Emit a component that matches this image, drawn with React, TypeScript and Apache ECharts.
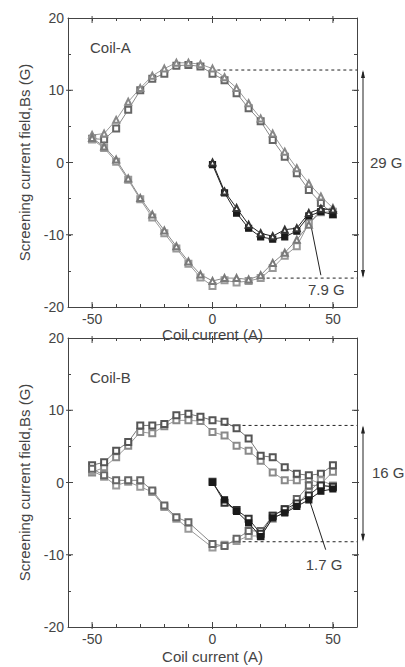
import React, { useEffect, useRef } from "react";
import * as echarts from "echarts";

// ---- data ----
const X_VIRGIN = [0, 5, 10, 15, 20, 25, 30, 35, 40, 45, 50];
const X_DESC = [50, 45, 40, 35, 30, 25, 20, 15, 10, 5, 0, -5, -10, -15, -20, -25, -30, -35, -40, -45, -50];
const X_ASC = [-50, -45, -40, -35, -30, -25, -20, -15, -10, -5, 0, 5, 10, 15, 20, 25, 30, 35, 40, 45, 50];
const X_ASC_B = [-50, -45, -40, -35, -30, -25, -20, -15, -10, 0, 5, 10, 15, 20, 25, 30, 35, 40, 45, 50];

// Coil-A
const A_VIRGIN_TRI = [0, -4.0, -6.3, -8.6, -9.8, -10.2, -9.3, -9.1, -7.0, -6.4, -6.5];
const A_VIRGIN_SQ = [-0.3, -4.2, -7.0, -9.1, -10.3, -10.6, -10.3, -9.5, -7.4, -6.8, -7.2];
const A_DESC_TRI = [-6.3, -4.7, -2.9, -0.8, 1.5, 4.0, 6.1, 8.2, 10.3, 11.8, 13.0, 13.6, 13.8, 13.8, 13.0, 12.0, 10.3, 8.4, 5.9, 4.0, 3.8];
const A_DESC_SQ = [-7.2, -5.6, -3.8, -1.5, 0.8, 3.1, 5.7, 7.5, 9.6, 11.4, 12.3, 13.3, 13.5, 13.4, 12.3, 11.6, 10.0, 7.3, 4.7, 3.2, 3.3];
const A_ASC_TRI = [3.4, 2.2, 0.4, -2.2, -4.9, -7.2, -9.4, -11.6, -13.7, -15.5, -16.4, -16.0, -16.0, -16.2, -15.6, -13.9, -12.5, -10.7, -8.6, -6.5, -6.5];
const A_ASC_SQ = [3.2, 2.0, 0.1, -2.4, -5.1, -7.6, -9.8, -11.9, -14.0, -15.9, -17.1, -16.3, -16.6, -16.4, -16.0, -14.6, -12.9, -11.6, -8.4, -6.9, -6.8];

// Coil-B
const B_VIRGIN_1 = [0, -2.4, -4.0, -5.6, -7.5, -4.9, -4.2, -3.3, -2.4, -1.2, -0.9];
const B_VIRGIN_2 = [0.1, -2.8, -3.8, -5.0, -7.1, -4.6, -3.7, -2.9, -1.8, -0.4, -0.6];
const B_DESC_1 = [2.4, 1.2, 1.0, 1.2, 2.1, 3.5, 3.7, 6.1, 7.5, 8.4, 8.6, 9.1, 9.5, 9.3, 8.1, 7.9, 7.9, 5.6, 4.4, 2.8, 2.4];
const B_DESC_2 = [1.5, -0.2, 0.5, 0.3, 0.3, 1.4, 3.0, 4.4, 5.1, 6.5, 7.0, 8.5, 8.6, 8.6, 7.8, 6.8, 7.0, 5.1, 3.5, 2.1, 1.4];
const B_ASC_1 = [1.9, 1.0, 0.3, 0.3, 0.3, -1.1, -3.2, -4.8, -5.5, -8.5, -8.8, -7.8, -6.7, -6.7, -4.6, -3.7, -2.3, -0.4, -0.4, -0.6];
const B_ASC_2 = [1.6, 0.8, -0.4, 0.1, -0.6, -1.3, -3.4, -5.0, -6.4, -9.0, -8.6, -8.1, -7.4, -7.4, -5.0, -4.1, -3.0, -1.3, 0.3, -0.4];

// annotation levels
const A_TOP = 12.8, A_BOT = -16.0, A_TOP_FROM = 2, A_BOT_FROM = 20;
const B_TOP = 7.9, B_BOT = -8.2, B_TOP_FROM = 5, B_BOT_FROM = 10;
const A_LEADER = [[41, -8.9], [45, -15.6]];
const B_LEADER = [[40.2, -2.4], [47, -9.3]];
const X_TICKS_LABELED = [-50, 0, 50];
const Y_TICKS_LABELED = [-20, -10, 0, 10, 20];
const Y_MAJOR_INNER = [-10, 0, 10];

const FONT = "Liberation Sans, Arial, sans-serif";
const TXT = "#444";
const AXC = "#444";

function zip(xs: number[], ys: number[]) {
  return xs.map((x, i) => [x, ys[i]]);
}

export default function App() {
  const ref = useRef<HTMLDivElement>(null);
  useEffect(() => {
    if (!ref.current) return;
    const chart = echarts.init(ref.current, undefined, { renderer: "svg" });

    const axLine = { show: true, onZero: false, lineStyle: { color: AXC, width: 1 } };
    const minorTick = { show: true, inside: true, length: 3, lineStyle: { color: AXC } };
    const xBase = (grid: number, gap: number) => [
      {
        gridIndex: grid, type: "value", min: -60, max: 60, interval: 10, position: "bottom",
        axisLine: axLine,
        axisTick: minorTick,
        axisLabel: {
          color: TXT, fontSize: 14, fontFamily: FONT, margin: 5,
          formatter: (v: number) => (X_TICKS_LABELED.includes(v) ? String(v) : ""),
        },
        splitLine: { show: false },
        name: "Coil current (A)", nameLocation: "middle", nameGap: gap,
        nameTextStyle: { color: TXT, fontSize: 15, fontFamily: FONT },
      },
      {
        gridIndex: grid, type: "value", min: -60, max: 60, interval: 10, position: "top",
        axisLine: axLine,
        axisTick: minorTick,
        axisLabel: { show: false }, splitLine: { show: false },
      },
    ];
    const yBase = (grid: number) => [
      {
        gridIndex: grid, type: "value", min: -20, max: 20, interval: 5, position: "left",
        axisLine: axLine,
        axisTick: minorTick,
        axisLabel: {
          color: TXT, fontSize: 14, fontFamily: FONT, margin: 4,
          formatter: (v: number) => (Y_TICKS_LABELED.includes(v) ? String(v) : ""),
        },
        splitLine: { show: false },
        name: "Screening current field,Bs (G)", nameLocation: "middle", nameGap: 36, nameRotate: 90,
        nameTextStyle: { color: TXT, fontSize: 15, fontFamily: FONT },
      },
      {
        gridIndex: grid, type: "value", min: -20, max: 20, interval: 5, position: "right",
        axisLine: axLine,
        axisTick: minorTick,
        axisLabel: { show: false }, splitLine: { show: false },
      },
    ];

    const ser = (grid: number, xs: number[], ys: number[], symbol: string, color: string, line: string, z = 2) => ({
      type: "line", xAxisIndex: grid * 2, yAxisIndex: grid * 2, data: zip(xs, ys),
      symbol, symbolSize: 6, showSymbol: true,
      itemStyle: { color, borderColor: color, borderWidth: 1.2 },
      lineStyle: { color: line, width: 1 }, z,
    });
    const dash = (grid: number, from: number, level: number) => ({
      type: "line", xAxisIndex: grid * 2, yAxisIndex: grid * 2,
      data: [[from, level], [60, level]], symbol: "none",
      lineStyle: { color: "#222", width: 1, type: [3, 3] }, z: 1, silent: true,
    });

    const series = [
      ser(0, X_DESC, A_DESC_SQ, "emptyRect", "#666", "#888"),
      ser(0, X_DESC, A_DESC_TRI, "emptyTriangle", "#888", "#999"),
      ser(0, X_ASC, A_ASC_SQ, "emptyRect", "#999", "#999"),
      ser(0, X_ASC, A_ASC_TRI, "emptyTriangle", "#7a7a7a", "#888"),
      ser(0, X_VIRGIN, A_VIRGIN_SQ, "rect", "#1a1a1a", "#222", 3),
      ser(0, X_VIRGIN, A_VIRGIN_TRI, "emptyTriangle", "#333", "#222", 3),
      dash(0, A_TOP_FROM, A_TOP),
      dash(0, A_BOT_FROM, A_BOT),
      ser(1, X_DESC, B_DESC_2, "emptyRect", "#8a8a8a", "#999"),
      ser(1, X_DESC, B_DESC_1, "emptyRect", "#555", "#777"),
      ser(1, X_ASC_B, B_ASC_2, "emptyRect", "#9a9a9a", "#999"),
      ser(1, X_ASC_B, B_ASC_1, "emptyRect", "#666", "#888"),
      ser(1, X_VIRGIN, B_VIRGIN_2, "emptyRect", "#333", "#333", 3),
      ser(1, X_VIRGIN, B_VIRGIN_1, "rect", "#1a1a1a", "#222", 3),
      dash(1, B_TOP_FROM, B_TOP),
      dash(1, B_BOT_FROM, B_BOT),
    ];

    chart.setOption({
      animation: false,
      backgroundColor: "#fff",
      grid: [
        { left: 68, top: 18, width: 289, height: 289 },
        { left: 68, top: 338, width: 289, height: 289 },
      ],
      xAxis: [...xBase(0, 17), ...xBase(1, 22)],
      yAxis: [...yBase(0), ...yBase(1)],
      series,
    });

    // annotations positioned via the axes
    const px = (grid: number, p: number[]) =>
      chart.convertToPixel({ xAxisIndex: grid * 2, yAxisIndex: grid * 2 } as any, p) as number[];
    const graphics: any[] = [];
    const seg = (x1: number, y1: number, x2: number, y2: number) =>
      graphics.push({ type: "line", shape: { x1, y1, x2, y2 }, style: { stroke: AXC, lineWidth: 1 } });

    // major ticks (longer, crossing the frame)
    [0, 1].forEach((g) => {
      const bl = px(g, [-60, -20]);
      const tr = px(g, [60, 20]);
      X_TICKS_LABELED.forEach((v) => {
        const x = px(g, [v, 0])[0];
        seg(x, bl[1] - 5, x, bl[1] + 2);
        seg(x, tr[1] + 5, x, tr[1] - 2);
      });
      Y_MAJOR_INNER.forEach((v) => {
        const y = px(g, [0, v])[1];
        seg(bl[0] - 2, y, bl[0] + 5, y);
        seg(tr[0] + 2, y, tr[0] - 5, y);
      });
    });

    const arrow = (grid: number, top: number, bot: number) => {
      const p1 = px(grid, [60, top]);
      const p2 = px(grid, [60, bot]);
      const x = p1[0] + 6;
      graphics.push({ type: "line", shape: { x1: x, y1: p1[1] + 2, x2: x, y2: p2[1] - 2 }, style: { stroke: "#222", lineWidth: 1 } });
      graphics.push({ type: "polygon", shape: { points: [[x, p1[1]], [x - 2, p1[1] + 8], [x + 2, p1[1] + 8]] }, style: { fill: "#222" } });
      graphics.push({ type: "polygon", shape: { points: [[x, p2[1]], [x - 2, p2[1] - 8], [x + 2, p2[1] - 8]] }, style: { fill: "#222" } });
      return { x, mid: (p1[1] + p2[1]) / 2 };
    };
    const leader = (grid: number, pts: number[][]) => {
      const a = px(grid, pts[0]);
      const b = px(grid, pts[1]);
      graphics.push({ type: "line", shape: { x1: a[0], y1: a[1], x2: b[0], y2: b[1] }, style: { stroke: "#222", lineWidth: 1 } });
      return b;
    };
    const text = (x: number, y: number, s: string, align = "left") =>
      graphics.push({
        type: "text", x, y,
        style: { text: s, fill: TXT, font: `15px ${FONT}`, textAlign: align, textVerticalAlign: "middle" },
      });

    const aA = arrow(0, A_TOP, A_BOT);
    text(aA.x + 7, px(0, [0, 0])[1], "29 G");
    const lA = leader(0, A_LEADER);
    text(lA[0] - 13, lA[1] + 14, "7.9 G");
    const aB = arrow(1, B_TOP, B_BOT);
    text(aB.x + 9, px(1, [0, 0])[1] - 10, "16 G");
    const lB = leader(1, B_LEADER);
    text(lB[0] - 20, lB[1] + 15, "1.7 G");
    text(90, 47, "Coil-A");
    text(90, 377, "Coil-B");

    chart.setOption({ graphic: graphics });

    return () => chart.dispose();
  }, []);

  return (
    <div
      ref={ref}
      style={{ position: "absolute", left: 0, top: 0, width: 405, height: 667, background: "#fff" }}
    />
  );
}
